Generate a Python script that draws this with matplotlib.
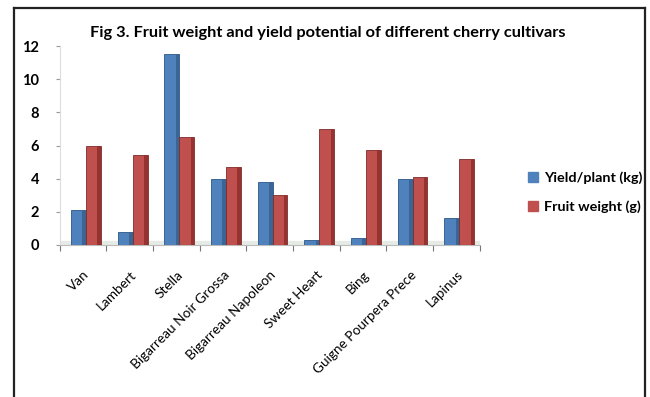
import numpy as np
import matplotlib.pyplot as plt
from matplotlib.lines import Line2D

cultivars = ["Van", "Lambert", "Stella", "Bigarreau Noir Grossa", "Bigarreau Napoleon",
             "Sweet Heart", "Bing", "Guigne Pourpera Prece", "Lapinus"]
yield_kg = [2.1, 0.8, 11.5, 4.0, 3.8, 0.3, 0.4, 4.0, 1.6]
fruit_g = [6.0, 5.4, 6.5, 4.7, 3.0, 7.0, 5.7, 4.1, 5.2]

blue = "#4F81BD"
red = "#C0504D"
plt.rcParams['font.family'] = ['Lato', 'DejaVu Sans']

fig = plt.figure(figsize=(6.5, 3.97), dpi=100)
ax = fig.add_axes([0.092, 0.383, 0.646, 0.501])

x = np.arange(len(cultivars))
w = 0.32
off = 0.06
# bars with a darker side strip to give a little depth
ax.bar(x - w / 2 + off, yield_kg, w, color=blue, edgecolor="#2c5687", linewidth=0.6, zorder=3)
ax.bar(x + w / 2 + off, fruit_g, w, color=red, edgecolor="#7d2b29", linewidth=0.6, zorder=3)
ax.bar(x - w / 2 + off + w * 0.38, yield_kg, w * 0.24, color="#3a6595", zorder=4)
ax.bar(x + w / 2 + off + w * 0.38, fruit_g, w * 0.24, color="#96322f", zorder=4)

ax.set_xlim(-0.5, len(cultivars) - 0.5)
ax.set_ylim(0, 12)
ax.set_yticks(range(0, 13, 2))
ax.set_yticklabels([str(v) for v in range(0, 13, 2)], fontsize=10.5, fontweight="bold")
ax.set_xticks(np.arange(-0.5, len(cultivars)), minor=False)
ax.set_xticklabels([])
ax.set_xticks(x, minor=True)
ax.set_xticklabels(cultivars, minor=True, rotation=45, ha="right",
                   rotation_mode="anchor", fontsize=9.8)
ax.tick_params(axis="x", which="minor", length=0, pad=17)
ax.tick_params(axis="x", which="major", length=4, color="#777777")
ax.tick_params(axis="y", length=3, color="#999999", pad=12)

for s in ["top", "right"]:
    ax.spines[s].set_visible(False)
ax.spines["left"].set_color("#dddddd")
ax.spines["bottom"].set_color("#bbbbbb")
ax.axhspan(0, 0.25, color="#e6ebe6", zorder=1)

fig.text(0.138, 0.918, "Fig 3. Fruit weight and yield potential of different cherry cultivars",
         fontsize=11.8, fontweight="bold", va="center")

handles = [plt.Rectangle((0, 0), 1, 1, color=blue), plt.Rectangle((0, 0), 1, 1, color=red)]
fig.legend(handles, ["Yield/plant (kg)", "Fruit weight (g)"], loc="center left",
           bbox_to_anchor=(0.792, 0.516), frameon=False, handlelength=0.7, handleheight=0.7,
           handletextpad=0.4, labelspacing=1.1, prop={"weight": "bold", "size": 10.4})

# page frame around the chart
for xs, ys in [([0.022, 0.022], [0.0, 0.98]), ([0.022, 0.992], [0.98, 0.98]), ([0.992, 0.992], [0.0, 0.98])]:
    fig.add_artist(Line2D(xs, ys, color="#222222", linewidth=1.6, transform=fig.transFigure))

fig.savefig("out.png", dpi=100)
